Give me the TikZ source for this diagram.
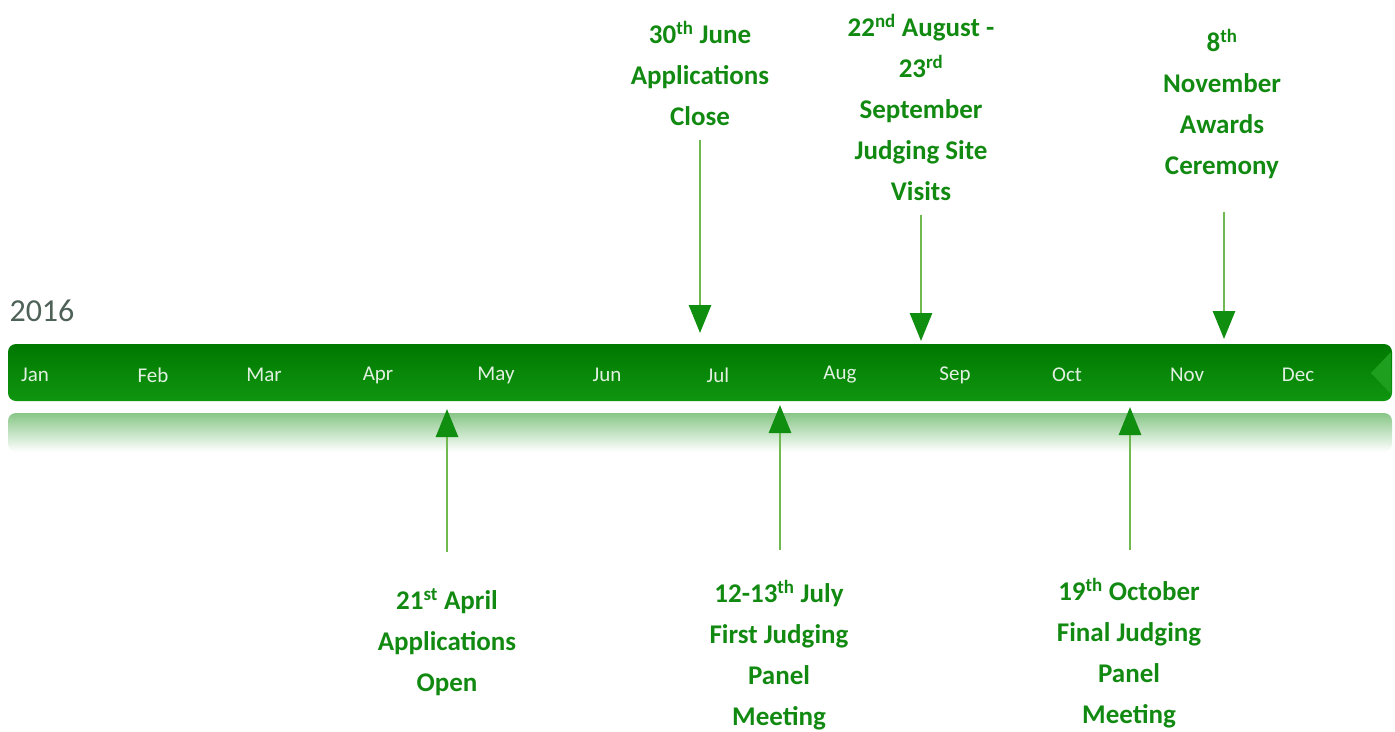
\documentclass[tikz,border=0pt]{standalone}
\usepackage{fontspec}
\setmainfont{Carlito}
\usetikzlibrary{arrows.meta}
\definecolor{evgreen}{RGB}{18,138,18}
\definecolor{linegreen}{RGB}{112,184,80}
\definecolor{headgreen}{RGB}{16,142,16}
\definecolor{bartop}{RGB}{0,120,0}
\definecolor{barbot}{RGB}{16,150,16}
\definecolor{barlight}{RGB}{30,160,30}
\definecolor{reflgreen}{RGB}{136,198,136}
\definecolor{yeargray}{RGB}{78,98,88}
\definecolor{monthwhite}{RGB}{226,240,226}
\tikzset{
  event/.style={text=evgreen, font=\bfseries\fontsize{27}{41}\selectfont, align=center, inner sep=0pt},
  evarrow/.style={draw=linegreen, line width=2.8pt, -{Triangle[length=28pt,width=22pt,color=headgreen]}},
  month/.style={text=monthwhite, font=\fontsize{21}{25}\selectfont}
}
\begin{document}
\begin{tikzpicture}[x=1pt,y=-1pt]
  \useasboundingbox (0,0) rectangle (1395,731);

  \node [anchor=west, text=yeargray, font=\fontsize{32}{38}\selectfont] (year) at (6,311) {2016};
  \shade [top color=reflgreen, bottom color=white, rounded corners=8pt] (8,413) rectangle (1392,452); %影
  \node [top color=bartop, bottom color=barbot, rounded corners=8pt, minimum width=1384pt, minimum height=57pt, inner sep=0pt] (bar) at (700,372.5) {};
  \fill [barlight] (1391,352) -- (1371,373) -- (1391,394) -- cycle;
  \foreach \m/\x in {Jan/35,Feb/153,Mar/264,Apr/378,May/496,Jun/607,Jul/718,Aug/840,Sep/955,Oct/1067,Nov/1187,Dec/1298}
    \node [month] (m\m) at (\x,375) {\m}; %月

  \node [event] (close) at (700,73) {30\textsuperscript{th} June\\Applications\\Close};
  \node [event] (visits) at (921,107) {22\textsuperscript{nd} August -\\23\textsuperscript{rd}\\September\\Judging Site\\Visits};
  \node [event] (awards) at (1222,104) {8\textsuperscript{th}\\November\\Awards\\Ceremony};
  \node [event] (open) at (447,642) {21\textsuperscript{st} April\\Applications\\Open};
  \node [event] (first) at (779,655) {12-13\textsuperscript{th} July\\First Judging\\Panel\\Meeting};
  \node [event] (final) at (1129,653) {19\textsuperscript{th} October\\Final Judging\\Panel\\Meeting};

  \coordinate (closetip) at (700,333);
  \coordinate (visitstip) at (921,341);
  \coordinate (awardstip) at (1224,339);
  \coordinate (opentip) at (447,409);
  \coordinate (firsttip) at (780,405);
  \coordinate (finaltip) at (1130,407);

  \draw [evarrow, shorten <=15pt] (close.south -| closetip) -- (closetip);
  \draw [evarrow, shorten <=15pt] (visits.south -| visitstip) -- (visitstip);
  \draw [evarrow, shorten <=33pt] (awards.south -| awardstip) -- (awardstip);
  \draw [evarrow, shorten <=36pt] (open.north -| opentip) -- (opentip);
  \draw [evarrow, shorten <=30pt] (first.north -| firsttip) -- (firsttip);
  \draw [evarrow, shorten <=28pt] (final.north -| finaltip) -- (finaltip);
\end{tikzpicture}
\end{document}
